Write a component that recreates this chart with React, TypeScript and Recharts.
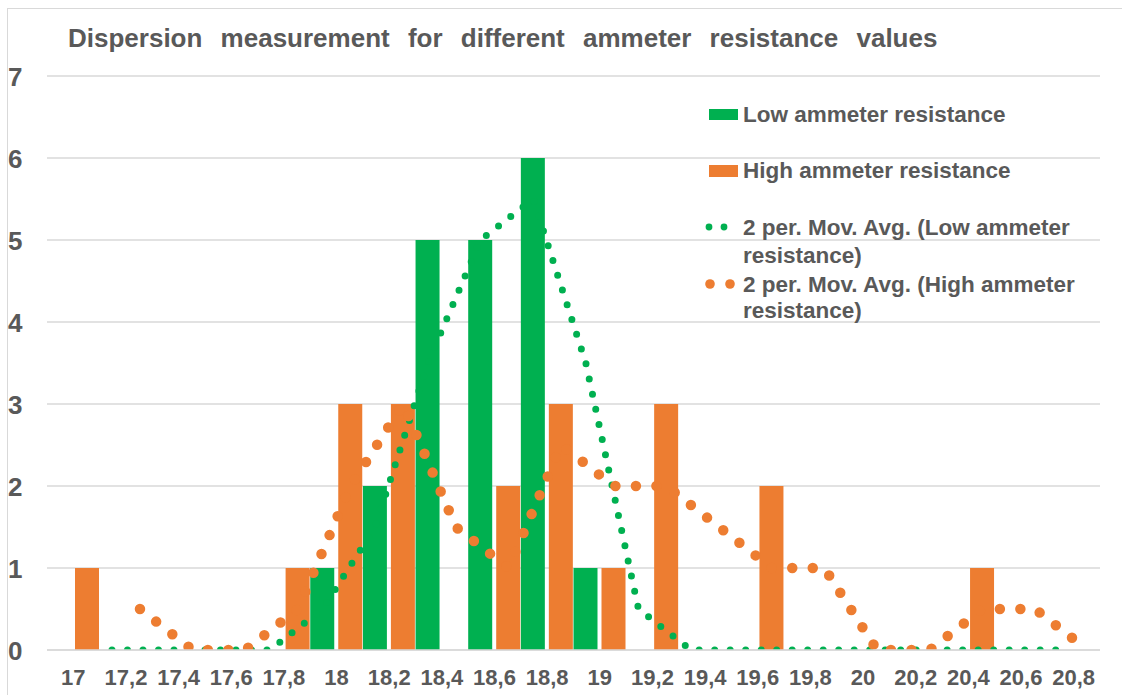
import React from 'react';
import { ComposedChart, Bar, Line, XAxis, YAxis, CartesianGrid } from 'recharts';

// ---- data ----
const categories = ['17', '17,2', '17,4', '17,6', '17,8', '18', '18,2', '18,4', '18,6', '18,8', '19', '19,2', '19,4', '19,6', '19,8', '20', '20,2', '20,4', '20,6', '20,8'];
const lowCounts = [0, 0, 0, 0, 0, 1, 2, 5, 5, 6, 1, 0, 0, 0, 0, 0, 0, 0, 0, 0];
const highCounts = [1, 0, 0, 0, 1, 3, 3, 0, 2, 3, 1, 3, 0, 2, 0, 0, 0, 1, 0, 0];
const lowMovAvg = [null, 0, 0, 0, 0, 0.5, 1.5, 3.5, 5, 5.5, 3.5, 0.5, 0, 0, 0, 0, 0, 0, 0, 0];
const highMovAvg = [null, 0.5, 0, 0, 0.5, 2, 3, 1.5, 1, 2.5, 2, 2, 1.5, 1, 1, 0, 0, 0.5, 0.5, 0];
const yTicks = [0, 1, 2, 3, 4, 5, 6, 7];

const TITLE = 'Dispersion measurement for different ammeter resistance values';
const LOW_NAME = 'Low ammeter resistance';
const HIGH_NAME = 'High ammeter resistance';

// ---- layout / style ----
const W = 1122;
const H = 695;
const MARGIN = { top: 76, right: 22, bottom: 15, left: 7 };
const Y_AXIS_W = 40;
const X_AXIS_H = 30;
const BAR_SIZE = 24;
const BAR_GAP = 4;
const GREEN = '#00B050';
const ORANGE = '#ED7D31';
const TEXT = '#595959';
const GRID = '#D9D9D9';
const FONT = '"Liberation Sans", Arial, sans-serif';

const plotWidth = W - MARGIN.left - Y_AXIS_W - MARGIN.right;
const bandWidth = plotWidth / categories.length;
// Excel draws a trendline through the centres of its own series' bars
const trendShift = (BAR_SIZE + BAR_GAP) / 2 / bandWidth;

const barData = categories.map((c, i) => ({ cat: c, low: lowCounts[i], high: highCounts[i] }));
const lowTrend = lowMovAvg
  .map((v, i) => ({ pos: i - trendShift, v }))
  .filter((d) => d.v !== null);
const highTrend = highMovAvg
  .map((v, i) => ({ pos: i + trendShift, v }))
  .filter((d) => d.v !== null);

const YTick = (props: any) => (
  <text x={8} y={props.y + 10} textAnchor="start" fontSize={26} fontWeight="bold" fill={TEXT} fontFamily={FONT}>
    {props.payload.value}
  </text>
);

const XTick = (props: any) => (
  <text x={props.x} y={685} textAnchor="middle" fontSize={22} fontWeight="bold" fill={TEXT} fontFamily={FONT}>
    {props.payload.value}
  </text>
);

const legendText = (x: number, y: number, s: string) => (
  <text x={x} y={y} fontSize={22.5} fontWeight="bold" fill={TEXT} fontFamily={FONT}>
    {s}
  </text>
);

export default function App() {
  return (
    <div style={{ position: 'absolute', left: 0, top: 0, width: W, height: H, overflow: 'hidden', background: '#fff' }}>
      <div
        style={{
          position: 'absolute',
          left: 7,
          top: 8,
          width: W + 50,
          height: H + 50,
          border: `1px solid ${GRID}`,
          boxSizing: 'border-box',
        }}
      />
      <div style={{ position: 'absolute', left: 0, top: 0 }}>
        <ComposedChart width={W} height={H} data={barData} margin={MARGIN} barGap={BAR_GAP}>
          <CartesianGrid vertical={false} stroke={GRID} strokeWidth={1.3} />
          <XAxis
            dataKey="cat"
            height={X_AXIS_H}
            axisLine={{ stroke: GRID, strokeWidth: 1.3 }}
            tickLine={false}
            interval={0}
            tick={<XTick />}
          />
          <XAxis
            xAxisId="trend"
            dataKey="pos"
            type="number"
            domain={[-0.5, categories.length - 0.5]}
            allowDataOverflow
            hide
          />
          <YAxis
            width={Y_AXIS_W}
            domain={[0, 7]}
            ticks={yTicks}
            allowDataOverflow
            axisLine={false}
            tickLine={false}
            interval={0}
            tick={<YTick />}
          />
          <Bar dataKey="low" name={LOW_NAME} fill={GREEN} barSize={BAR_SIZE} isAnimationActive={false} />
          <Bar dataKey="high" name={HIGH_NAME} fill={ORANGE} barSize={BAR_SIZE} isAnimationActive={false} />
          <Line
            xAxisId="trend"
            data={lowTrend}
            dataKey="v"
            type="linear"
            stroke={GREEN}
            strokeWidth={7}
            strokeDasharray="0 15.5"
            strokeLinecap="round"
            dot={false}
            activeDot={false}
            isAnimationActive={false}
          />
          <Line
            xAxisId="trend"
            data={highTrend}
            dataKey="v"
            type="linear"
            stroke={ORANGE}
            strokeWidth={10.5}
            strokeDasharray="0 20.5"
            strokeLinecap="round"
            dot={false}
            activeDot={false}
            isAnimationActive={false}
          />
        </ComposedChart>
      </div>
      <svg width={W} height={H} style={{ position: 'absolute', left: 0, top: 0, pointerEvents: 'none' }}>
        <text
          x={68}
          y={47}
          fontSize={26}
          fontWeight="bold"
          fill={TEXT}
          fontFamily={FONT}
          style={{ wordSpacing: '11px' }}
        >
          {TITLE}
        </text>
        <rect x={709} y={109} width={29} height={11} fill={GREEN} />
        {legendText(743, 122, LOW_NAME)}
        <rect x={709} y={165} width={29} height={12} fill={ORANGE} />
        {legendText(743, 178, HIGH_NAME)}
        <circle cx={709} cy={227} r={3.4} fill={GREEN} />
        <circle cx={724} cy={227} r={3.4} fill={GREEN} />
        {legendText(743, 235, '2 per. Mov. Avg. (Low ammeter')}
        {legendText(743, 263, 'resistance)')}
        <circle cx={710} cy={284} r={4.8} fill={ORANGE} />
        <circle cx={730} cy={284} r={4.8} fill={ORANGE} />
        {legendText(743, 292, '2 per. Mov. Avg. (High ammeter')}
        {legendText(743, 318, 'resistance)')}
      </svg>
    </div>
  );
}
